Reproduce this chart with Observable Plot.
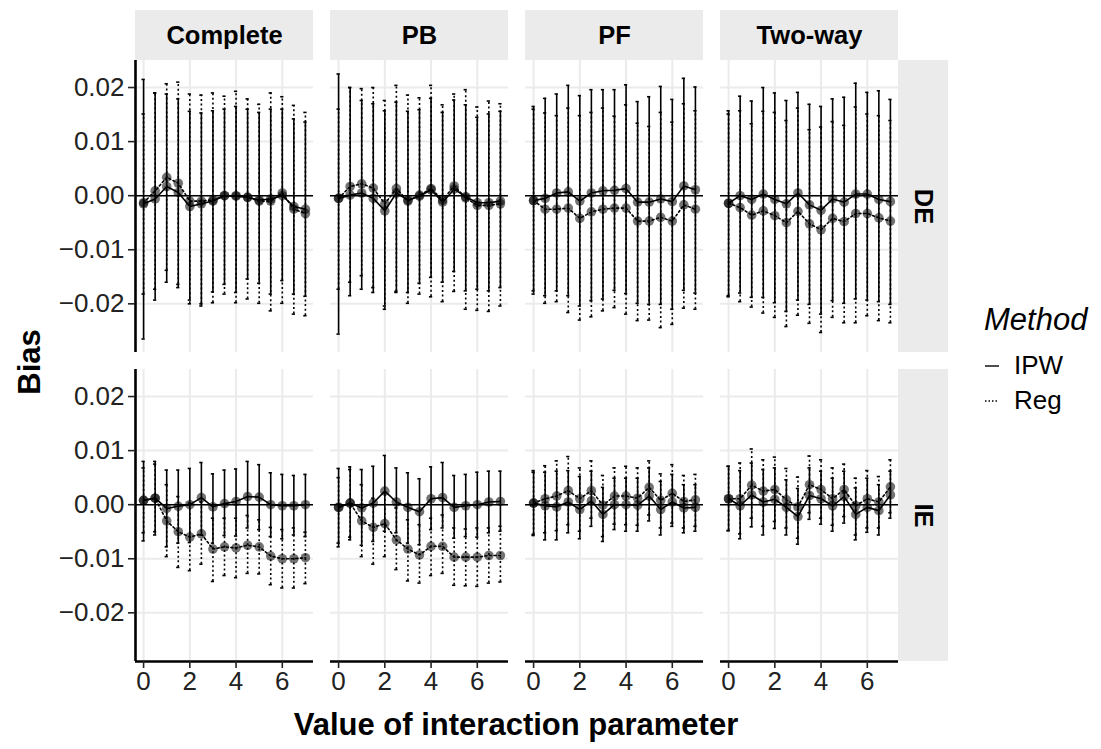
<!DOCTYPE html>
<html>
<head>
<meta charset="utf-8">
<script src="https://cdn.jsdelivr.net/npm/d3@7"></script>
<script src="https://cdn.jsdelivr.net/npm/@observablehq/plot@0.6"></script>
<style>
  body { margin: 0; background: #fff; }
  #wrap { position: relative; width: 1101px; height: 749px; font-family: "Liberation Sans", Arial, Helvetica, sans-serif; color: #000; }
  .title { position: absolute; font-weight: bold; font-size: 31px; white-space: nowrap; }
  #ylab { left: 30px; top: 362px; transform: translate(-50%, -50%) rotate(-90deg); }
  #xlab { left: 516px; top: 725px; transform: translate(-50%, -50%); }
  #legend { position: absolute; left: 984px; top: 302px; }
  #legend .lt { font-style: italic; font-size: 31px; margin-bottom: 10px; }
  #legend .item { display: flex; align-items: center; height: 35px; font-size: 26px; }
  #legend svg { margin-right: 14px; }
</style>
</head>
<body>
<div id="wrap">
  <div id="chart"></div>
  <div id="ylab" class="title">Bias</div>
  <div id="xlab" class="title">Value of interaction parameter</div>
  <div id="legend"></div>
</div>
<script>
// ---------- data ----------
const xValues = [0, 0.5, 1, 1.5, 2, 2.5, 3, 3.5, 4, 4.5, 5, 5.5, 6, 6.5, 7];
const panels = ["Complete", "PB", "PF", "Two-way"];
const effects = ["DE", "IE"];
const methods = ["IPW", "Reg"];
const xTicks = [0, 2, 4, 6];
const yTicks = [-0.02, -0.01, 0, 0.01, 0.02];

// Complete / DE
const completeDE_IPW_est = [-0.0015, -0.0006, 0.0017, 0.0006, -0.0020, -0.0015, -0.0010, 0.0000, -0.0001, -0.0003, -0.0008, -0.0006, 0.0000, -0.0020, -0.0025];
const completeDE_IPW_lo  = [-0.0265, -0.0193, -0.0160, -0.0170, -0.0193, -0.0204, -0.0178, -0.0164, -0.0179, -0.0154, -0.0162, -0.0182, -0.0157, -0.0182, -0.0186];
const completeDE_IPW_hi  = [0.0215, 0.0190, 0.0188, 0.0179, 0.0156, 0.0153, 0.0157, 0.0160, 0.0165, 0.0160, 0.0154, 0.0160, 0.0160, 0.0142, 0.0136];
const completeDE_Reg_est = [-0.0013, 0.0009, 0.0034, 0.0023, -0.0010, -0.0010, -0.0008, 0.0000, 0.0000, -0.0003, -0.0010, -0.0010, 0.0005, -0.0025, -0.0033];
const completeDE_Reg_lo  = [-0.0182, -0.0173, -0.0138, -0.0164, -0.0200, -0.0200, -0.0198, -0.0182, -0.0198, -0.0191, -0.0199, -0.0213, -0.0199, -0.0219, -0.0222];
const completeDE_Reg_hi  = [0.0151, 0.0190, 0.0207, 0.0210, 0.0188, 0.0186, 0.0190, 0.0184, 0.0193, 0.0179, 0.0169, 0.0190, 0.0183, 0.0167, 0.0154];

// PB / DE
const pbDE_IPW_est = [-0.0005, 0.0001, 0.0005, -0.0005, -0.0028, 0.0005, -0.0008, -0.0001, 0.0011, -0.0012, 0.0012, -0.0002, -0.0013, -0.0013, -0.0010];
const pbDE_IPW_lo  = [-0.0256, -0.0185, -0.0173, -0.0179, -0.0204, -0.0179, -0.0179, -0.0162, -0.0151, -0.0160, -0.0140, -0.0176, -0.0173, -0.0176, -0.0170];
const pbDE_IPW_hi  = [0.0225, 0.0200, 0.0176, 0.0170, 0.0157, 0.0173, 0.0156, 0.0159, 0.0180, 0.0154, 0.0177, 0.0168, 0.0145, 0.0151, 0.0156];
const pbDE_Reg_est = [-0.0005, 0.0017, 0.0022, 0.0014, -0.0015, 0.0013, -0.0010, 0.0001, 0.0013, -0.0008, 0.0018, -0.0004, -0.0018, -0.0018, -0.0015];
const pbDE_Reg_lo  = [-0.0173, -0.0160, -0.0148, -0.0170, -0.0210, -0.0177, -0.0199, -0.0182, -0.0187, -0.0196, -0.0177, -0.0210, -0.0212, -0.0214, -0.0204];
const pbDE_Reg_hi  = [0.0160, 0.0200, 0.0198, 0.0200, 0.0176, 0.0204, 0.0186, 0.0181, 0.0204, 0.0168, 0.0188, 0.0196, 0.0164, 0.0175, 0.0170];

// PF / DE
const pfDE_IPW_est = [-0.0009, -0.0005, 0.0005, 0.0007, -0.0010, 0.0005, 0.0009, 0.0010, 0.0013, -0.0012, -0.0012, -0.0006, -0.0011, 0.0018, 0.0011];
const pfDE_IPW_lo  = [-0.0182, -0.0185, -0.0176, -0.0185, -0.0204, -0.0194, -0.0191, -0.0175, -0.0181, -0.0199, -0.0201, -0.0201, -0.0210, -0.0175, -0.0180];
const pfDE_IPW_hi  = [0.0165, 0.0180, 0.0188, 0.0204, 0.0185, 0.0196, 0.0196, 0.0196, 0.0205, 0.0174, 0.0183, 0.0202, 0.0178, 0.0217, 0.0201];
const pfDE_Reg_est = [-0.0009, -0.0025, -0.0025, -0.0023, -0.0042, -0.0030, -0.0025, -0.0023, -0.0023, -0.0047, -0.0047, -0.0040, -0.0047, -0.0017, -0.0025];
const pfDE_Reg_lo  = [-0.0176, -0.0199, -0.0196, -0.0216, -0.0230, -0.0224, -0.0213, -0.0207, -0.0219, -0.0231, -0.0230, -0.0244, -0.0238, -0.0208, -0.0210];
const pfDE_Reg_hi  = [0.0160, 0.0153, 0.0148, 0.0162, 0.0148, 0.0154, 0.0162, 0.0147, 0.0168, 0.0134, 0.0128, 0.0154, 0.0136, 0.0170, 0.0157];

// Two-way / DE
const twDE_IPW_est = [-0.0014, 0.0000, -0.0007, 0.0003, -0.0007, -0.0015, 0.0005, -0.0017, -0.0027, -0.0006, -0.0012, 0.0003, 0.0003, -0.0007, -0.0011];
const twDE_IPW_lo  = [-0.0187, -0.0180, -0.0188, -0.0188, -0.0198, -0.0214, -0.0193, -0.0201, -0.0219, -0.0194, -0.0199, -0.0191, -0.0193, -0.0196, -0.0201];
const twDE_IPW_hi  = [0.0157, 0.0184, 0.0175, 0.0200, 0.0190, 0.0176, 0.0191, 0.0169, 0.0165, 0.0179, 0.0182, 0.0208, 0.0191, 0.0194, 0.0178];
const twDE_Reg_est = [-0.0014, -0.0022, -0.0036, -0.0028, -0.0037, -0.0050, -0.0029, -0.0052, -0.0063, -0.0042, -0.0048, -0.0033, -0.0033, -0.0041, -0.0047];
const twDE_Reg_lo  = [-0.0185, -0.0196, -0.0206, -0.0217, -0.0225, -0.0242, -0.0221, -0.0236, -0.0253, -0.0225, -0.0235, -0.0235, -0.0222, -0.0231, -0.0235];
const twDE_Reg_hi  = [0.0151, 0.0157, 0.0133, 0.0156, 0.0154, 0.0139, 0.0162, 0.0122, 0.0127, 0.0137, 0.0130, 0.0164, 0.0151, 0.0148, 0.0139];

// Complete / IE
const completeIE_IPW_est = [0.0008, 0.0012, -0.0007, -0.0003, 0.0000, 0.0013, -0.0004, 0.0002, 0.0006, 0.0015, 0.0014, 0.0000, -0.0002, -0.0002, 0.0000];
const completeIE_IPW_lo  = [-0.0067, -0.0056, -0.0078, -0.0071, -0.0070, -0.0056, -0.0071, -0.0057, -0.0058, -0.0043, -0.0046, -0.0059, -0.0063, -0.0056, -0.0059];
const completeIE_IPW_hi  = [0.0080, 0.0080, 0.0064, 0.0064, 0.0067, 0.0078, 0.0057, 0.0064, 0.0066, 0.0080, 0.0074, 0.0059, 0.0056, 0.0054, 0.0056];
const completeIE_Reg_est = [0.0008, 0.0012, -0.0030, -0.0050, -0.0060, -0.0054, -0.0082, -0.0078, -0.0080, -0.0075, -0.0078, -0.0095, -0.0100, -0.0100, -0.0098];
const completeIE_Reg_lo  = [-0.0052, -0.0050, -0.0096, -0.0116, -0.0122, -0.0110, -0.0142, -0.0131, -0.0135, -0.0127, -0.0128, -0.0148, -0.0154, -0.0154, -0.0146];
const completeIE_Reg_hi  = [0.0068, 0.0075, 0.0037, 0.0015, 0.0003, 0.0005, -0.0025, -0.0025, -0.0025, -0.0020, -0.0028, -0.0042, -0.0046, -0.0043, -0.0051];

// PB / IE
const pbIE_IPW_est = [-0.0005, 0.0003, -0.0006, 0.0003, 0.0025, 0.0005, -0.0005, -0.0013, 0.0011, 0.0013, -0.0005, -0.0002, 0.0000, 0.0005, 0.0006];
const pbIE_IPW_lo  = [-0.0078, -0.0065, -0.0075, -0.0068, -0.0049, -0.0052, -0.0071, -0.0074, -0.0046, -0.0043, -0.0062, -0.0059, -0.0060, -0.0052, -0.0049];
const pbIE_IPW_hi  = [0.0067, 0.0070, 0.0065, 0.0071, 0.0091, 0.0068, 0.0059, 0.0048, 0.0070, 0.0078, 0.0054, 0.0056, 0.0060, 0.0062, 0.0062];
const pbIE_Reg_est = [-0.0005, 0.0003, -0.0030, -0.0042, -0.0035, -0.0065, -0.0082, -0.0093, -0.0077, -0.0077, -0.0097, -0.0097, -0.0097, -0.0094, -0.0094];
const pbIE_Reg_lo  = [-0.0071, -0.0060, -0.0096, -0.0110, -0.0096, -0.0120, -0.0141, -0.0145, -0.0131, -0.0127, -0.0149, -0.0150, -0.0151, -0.0145, -0.0143];
const pbIE_Reg_hi  = [0.0050, 0.0065, 0.0037, 0.0012, 0.0022, -0.0006, -0.0028, -0.0037, -0.0025, -0.0019, -0.0043, -0.0045, -0.0043, -0.0043, -0.0040];

// PF / IE
const pfIE_IPW_est = [0.0003, -0.0002, -0.0004, 0.0005, -0.0009, 0.0007, -0.0018, 0.0000, 0.0000, -0.0001, 0.0016, -0.0009, 0.0005, -0.0006, -0.0005];
const pfIE_IPW_lo  = [-0.0057, -0.0065, -0.0065, -0.0052, -0.0063, -0.0040, -0.0068, -0.0046, -0.0049, -0.0049, -0.0030, -0.0056, -0.0040, -0.0052, -0.0049];
const pfIE_IPW_hi  = [0.0063, 0.0060, 0.0062, 0.0063, 0.0052, 0.0062, 0.0032, 0.0049, 0.0049, 0.0049, 0.0068, 0.0043, 0.0056, 0.0037, 0.0037];
const pfIE_Reg_est = [0.0003, 0.0011, 0.0016, 0.0026, 0.0011, 0.0026, -0.0001, 0.0016, 0.0016, 0.0012, 0.0032, 0.0008, 0.0021, 0.0006, 0.0009];
const pfIE_Reg_lo  = [-0.0055, -0.0052, -0.0048, -0.0037, -0.0049, -0.0025, -0.0059, -0.0036, -0.0037, -0.0038, -0.0019, -0.0043, -0.0034, -0.0043, -0.0040];
const pfIE_Reg_hi  = [0.0060, 0.0072, 0.0081, 0.0089, 0.0068, 0.0081, 0.0054, 0.0068, 0.0071, 0.0068, 0.0081, 0.0057, 0.0074, 0.0054, 0.0056];

// Two-way / IE
const twIE_IPW_est = [0.0011, -0.0002, 0.0018, 0.0005, 0.0010, -0.0005, -0.0022, 0.0017, 0.0011, -0.0002, 0.0015, -0.0018, -0.0005, -0.0011, 0.0018];
const twIE_IPW_lo  = [-0.0048, -0.0063, -0.0041, -0.0056, -0.0044, -0.0056, -0.0073, -0.0027, -0.0036, -0.0049, -0.0034, -0.0065, -0.0051, -0.0056, -0.0025];
const twIE_IPW_hi  = [0.0071, 0.0063, 0.0077, 0.0065, 0.0068, 0.0046, 0.0030, 0.0068, 0.0062, 0.0049, 0.0062, 0.0031, 0.0049, 0.0037, 0.0062];
const twIE_Reg_est = [0.0011, 0.0011, 0.0036, 0.0025, 0.0028, 0.0009, -0.0004, 0.0037, 0.0028, 0.0011, 0.0028, -0.0002, 0.0011, 0.0005, 0.0033];
const twIE_Reg_lo  = [-0.0048, -0.0054, -0.0025, -0.0040, -0.0031, -0.0043, -0.0062, -0.0015, -0.0025, -0.0038, -0.0022, -0.0056, -0.0043, -0.0043, -0.0015];
const twIE_Reg_hi  = [0.0071, 0.0077, 0.0103, 0.0083, 0.0088, 0.0067, 0.0051, 0.0090, 0.0083, 0.0068, 0.0075, 0.0049, 0.0063, 0.0052, 0.0083];

// ---------- build table ----------
const seriesList = [
  ["Complete", "DE", "IPW", completeDE_IPW_est, completeDE_IPW_lo, completeDE_IPW_hi],
  ["Complete", "DE", "Reg", completeDE_Reg_est, completeDE_Reg_lo, completeDE_Reg_hi],
  ["PB", "DE", "IPW", pbDE_IPW_est, pbDE_IPW_lo, pbDE_IPW_hi],
  ["PB", "DE", "Reg", pbDE_Reg_est, pbDE_Reg_lo, pbDE_Reg_hi],
  ["PF", "DE", "IPW", pfDE_IPW_est, pfDE_IPW_lo, pfDE_IPW_hi],
  ["PF", "DE", "Reg", pfDE_Reg_est, pfDE_Reg_lo, pfDE_Reg_hi],
  ["Two-way", "DE", "IPW", twDE_IPW_est, twDE_IPW_lo, twDE_IPW_hi],
  ["Two-way", "DE", "Reg", twDE_Reg_est, twDE_Reg_lo, twDE_Reg_hi],
  ["Complete", "IE", "IPW", completeIE_IPW_est, completeIE_IPW_lo, completeIE_IPW_hi],
  ["Complete", "IE", "Reg", completeIE_Reg_est, completeIE_Reg_lo, completeIE_Reg_hi],
  ["PB", "IE", "IPW", pbIE_IPW_est, pbIE_IPW_lo, pbIE_IPW_hi],
  ["PB", "IE", "Reg", pbIE_Reg_est, pbIE_Reg_lo, pbIE_Reg_hi],
  ["PF", "IE", "IPW", pfIE_IPW_est, pfIE_IPW_lo, pfIE_IPW_hi],
  ["PF", "IE", "Reg", pfIE_Reg_est, pfIE_Reg_lo, pfIE_Reg_hi],
  ["Two-way", "IE", "IPW", twIE_IPW_est, twIE_IPW_lo, twIE_IPW_hi],
  ["Two-way", "IE", "Reg", twIE_Reg_est, twIE_Reg_lo, twIE_Reg_hi]
];
const rows = [];
for (const [panel, effect, method, est, lo, hi] of seriesList) {
  xValues.forEach((x, i) => rows.push({panel, effect, method, x, est: est[i], lo: lo[i], hi: hi[i]}));
}
const ipwRows = rows.filter(d => d.method === "IPW");
const regRows = rows.filter(d => d.method === "Reg");

// ---------- layout ----------
const W = 1101, H = 749;
const mTop = 60, mBottom = 88, mLeft = 135, mRight = 203;
const fxPad = 17 / 195, fyPad = 17 / 309;
const xDomain = [-0.35, 7.35];
const yDomain = [-0.029, 0.025];
const strip = 50;
const cap = 0.07;
const stripTop = panels.map(p => ({panel: p, effect: "DE"}));
const stripRight = effects.map(e => ({panel: "Two-way", effect: e}));
const leftAxis = effects.map(e => ({panel: "Complete", effect: e}));
const bottomAxis = panels.map(p => ({panel: p, effect: "IE"}));
const facetOpts = {fx: "panel", fy: "effect"};
const dotted = "2,2.6";

const chart = Plot.plot({
  width: W, height: H,
  marginTop: mTop, marginBottom: mBottom, marginLeft: mLeft, marginRight: mRight,
  style: {fontFamily: '"Liberation Sans", Arial, Helvetica, sans-serif', background: "#fff"},
  x: {domain: xDomain, nice: false},
  y: {domain: yDomain, nice: false},
  fx: {domain: panels, axis: null, paddingInner: fxPad, paddingOuter: 0},
  fy: {domain: effects, axis: null, paddingInner: fyPad, paddingOuter: 0},
  marks: [
    Plot.gridX({ticks: xTicks, stroke: "#ebebeb", strokeOpacity: 1, strokeWidth: 2}),
    Plot.gridY({ticks: yTicks, stroke: "#ebebeb", strokeOpacity: 1, strokeWidth: 2}),
    // strips
    Plot.rect(stripTop, {...facetOpts, x1: () => xDomain[0], x2: () => xDomain[1], y1: () => yDomain[1], y2: () => yDomain[1], insetTop: -strip, fill: "#ebebeb"}),
    Plot.text(stripTop, {...facetOpts, x: () => (xDomain[0] + xDomain[1]) / 2, y: () => yDomain[1], dy: -strip / 2, text: "panel", fontSize: 25.5, fontWeight: "bold", fill: "#000"}),
    Plot.rect(stripRight, {...facetOpts, x1: () => xDomain[1], x2: () => xDomain[1], y1: () => yDomain[0], y2: () => yDomain[1], insetRight: -strip, fill: "#ebebeb"}),
    Plot.text(stripRight, {...facetOpts, x: () => xDomain[1], y: () => (yDomain[0] + yDomain[1]) / 2, dx: strip / 2, rotate: 90, text: "effect", fontSize: 25.5, fontWeight: "bold", fill: "#000"}),
    // zero line
    Plot.ruleY([0], {stroke: "#000", strokeWidth: 1.6}),
    // error bars
    Plot.ruleX(regRows, {...facetOpts, x: "x", y1: "lo", y2: "hi", stroke: "#000", strokeWidth: 1.6, strokeDasharray: dotted}),
    Plot.ruleY(regRows, {...facetOpts, y: "lo", x1: d => d.x - cap, x2: d => d.x + cap, stroke: "#000", strokeWidth: 1.6}),
    Plot.ruleY(regRows, {...facetOpts, y: "hi", x1: d => d.x - cap, x2: d => d.x + cap, stroke: "#000", strokeWidth: 1.6}),
    Plot.ruleX(ipwRows, {...facetOpts, x: "x", y1: "lo", y2: "hi", stroke: "#000", strokeWidth: 1.6}),
    Plot.ruleY(ipwRows, {...facetOpts, y: "lo", x1: d => d.x - cap, x2: d => d.x + cap, stroke: "#000", strokeWidth: 1.6}),
    Plot.ruleY(ipwRows, {...facetOpts, y: "hi", x1: d => d.x - cap, x2: d => d.x + cap, stroke: "#000", strokeWidth: 1.6}),
    // lines
    Plot.line(regRows, {...facetOpts, x: "x", y: "est", stroke: "#000", strokeWidth: 1.6, strokeDasharray: dotted}),
    Plot.line(ipwRows, {...facetOpts, x: "x", y: "est", stroke: "#000", strokeWidth: 1.6}),
    // points
    Plot.dot(rows, {...facetOpts, x: "x", y: "est", r: 4.8, fill: "#000", fillOpacity: 0.55, stroke: "none"}),
    // axis lines
    Plot.ruleX(leftAxis, {...facetOpts, x: () => xDomain[0], stroke: "#000", strokeWidth: 2.6}),
    Plot.ruleY(bottomAxis, {...facetOpts, y: () => yDomain[0], stroke: "#000", strokeWidth: 2.6}),
    // axes
    Plot.axisY({ticks: yTicks, tickFormat: d3.format(".2f"), tickSize: 7, tickPadding: 4, fontSize: 26, color: "#222", strokeWidth: 1.6, label: null}),
    Plot.axisX({ticks: xTicks, tickFormat: d3.format("d"), tickSize: 7, tickPadding: 3, fontSize: 26, color: "#222", strokeWidth: 1.6, label: null})
  ]
});
document.getElementById("chart").appendChild(chart);

// ---------- legend ----------
const legend = document.getElementById("legend");
const lt = document.createElement("div");
lt.className = "lt";
lt.textContent = "Method";
legend.appendChild(lt);
for (const m of methods) {
  const item = document.createElement("div");
  item.className = "item";
  const key = d3.create("svg").attr("width", 16).attr("height", 20);
  key.append("line").attr("x1", 1).attr("x2", 15).attr("y1", 10).attr("y2", 10)
    .attr("stroke", "#000").attr("stroke-width", 1.4)
    .attr("stroke-dasharray", m === "Reg" ? "1.5,2" : null);
  item.appendChild(key.node());
  const label = document.createElement("span");
  label.textContent = m;
  item.appendChild(label);
  legend.appendChild(item);
}
</script>
</body>
</html>
